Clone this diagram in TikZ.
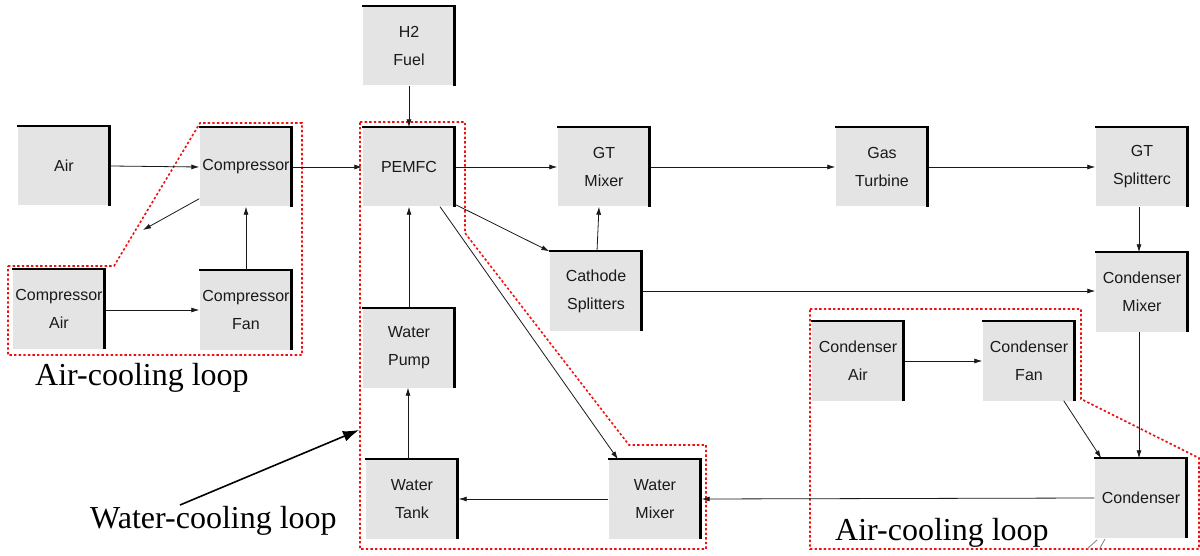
\documentclass[tikz,border=0pt]{standalone}
\usepackage{fontspec}
\setmainfont{Liberation Serif}
\newfontfamily\arial{Liberation Sans}
\usetikzlibrary{arrows.meta}
\definecolor{boxgray}{HTML}{E4E4E4}
\definecolor{lineink}{HTML}{1A1A1A}
\definecolor{loopred}{HTML}{F01010}
\tikzset{
  blk/.style={fill=boxgray, draw=none, minimum width=93pt, minimum height=79pt,
    inner sep=0pt, align=center, text=lineink,
    font=\arial\fontsize{16}{28}\selectfont},
  flow/.style={draw=lineink, line width=0.8pt, -{Latex[length=8pt,width=5pt]}},
  loopline/.style={draw=loopred, line width=1.6pt, dash pattern=on 2.4pt off 2.2pt},
  looplabel/.style={font=\fontsize{32}{36}\selectfont, anchor=base west, inner sep=0pt},
  topedge/.style={line width=2pt, black},
  rightedge/.style={line width=3pt, black}
}
\begin{document}
\begin{tikzpicture}[x=1pt,y=-1pt]
\useasboundingbox (0,0) rectangle (1200,556);
% boxes
\node[blk] (air)     at (64,166)   {Air};
\node[blk] (comp)    at (246,167)  {Compressor};
\node[blk] (compair) at (59,309)   {Compressor\\Air};
\node[blk] (compfan) at (246,310)  {Compressor\\Fan};
\node[blk] (h2)      at (409,46)   {H2\\Fuel};
\node[blk] (pemfc)   at (409,167)  {PEMFC};
\node[blk] (gtmix)   at (604,167)  {GT\\Mixer};
\node[blk] (gt)      at (882,167)  {Gas\\Turbine};
\node[blk] (gtsplit) at (1142,167) {GT\\Splitterc};
\node[blk] (cathode) at (596,291)  {Cathode\\Splitters};
\node[blk] (condmix) at (1142,292) {Condenser\\Mixer};
\node[blk] (condair) at (858,361)  {Condenser\\Air};
\node[blk] (condfan) at (1029,361) {Condenser\\Fan};
\node[blk] (cond)    at (1141,498) {Condenser};
\node[blk] (pump)    at (409,348)  {Water\\Pump};
\node[blk] (tank)    at (412,499)  {Water\\Tank};
\node[blk] (wmix)    at (655,499)  {Water\\Mixer};
\foreach \n in {air,comp,compair,compfan,h2,pemfc,gtmix,gt,gtsplit,cathode,condmix,condair,condfan,cond,pump,tank,wmix}{
  \draw[topedge] (\n.north west) -- (\n.north east);
  \draw[rightedge] ([xshift=-1.5pt]\n.north east) -- ([xshift=-1.5pt]\n.south east);
}
% loops
\draw[loopline] (8,266) -- (114,266) -- (200,123) -- (302,123) -- (302,355) -- (8,355) -- cycle;
\draw[loopline] (360,122) -- (465,122) -- (465,233) -- (629,445) -- (706,445) -- (706,549) -- (360,549) -- cycle;
\draw[loopline] (810,309) -- (1081,309) -- (1081,399) -- (1199,458) -- (1199,549) -- (810,549) -- cycle;
% connectors
\coordinate (freeend) at (143,230);
\draw[flow] (air.east) -- (comp.west);
\draw[flow] (comp.east) -- (pemfc.west);
\draw[flow] ([yshift=8pt]comp.south west) -- (freeend);
\draw[flow] (compair.east |- 0,310) -- (compfan.west);
\draw[flow] (compfan.north) -- (comp.south);
\draw[flow] (h2.south) -- (pemfc.north);
\draw[flow] (pemfc.east) -- (gtmix.west);
\draw[flow] (gtmix.east) -- (gt.west);
\draw[flow] (gt.east) -- (gtsplit.west);
\draw[flow] ([xshift=-3pt]gtsplit.south) -- ([xshift=-3pt]condmix.north);
\draw[flow] ([xshift=1pt]cathode.north) -- ([xshift=-5pt]gtmix.south);
\draw[flow] ([yshift=2pt]pemfc.south east) -- (cathode.north west);
\draw[flow] ([xshift=31pt]pemfc.south) -- ([xshift=-37pt]wmix.north);
\draw[flow] (cathode.east) -- (cathode.east -| condmix.west);
\draw[flow] (pump.north) -- (pemfc.south);
\draw[flow] ([xshift=-4pt]tank.north) -- ([xshift=-1pt]pump.south);
\draw[flow] (wmix.west) -- (tank.east);
\draw[flow] (cond.west) -- (wmix.east);
\draw[flow] (condair.east) -- (condfan.west);
\draw[flow] ([xshift=-12pt]condfan.south east) -- ([xshift=7pt]cond.north west);
\draw[flow] ([xshift=-3pt]condmix.south) -- ([xshift=-2pt]cond.north);
% little marks below condenser
\draw[gray, line width=0.8pt] (1087,549) -- (1097,540);
\draw[gray, line width=0.8pt] (1100,548) -- (1105,539);
% loop labels
\node[looplabel] (lblair1) at (35,385) {Air-cooling loop};
\node[looplabel] (lblwater) at (90,528) {Water-cooling loop};
\node[looplabel] (lblair2) at (835,540) {Air-cooling loop};
\coordinate (waterstart) at (180,505);
\draw[line width=1.6pt, -{Latex[length=16pt,width=11pt]}] (waterstart) -- (359,430);
\end{tikzpicture}
\end{document}
